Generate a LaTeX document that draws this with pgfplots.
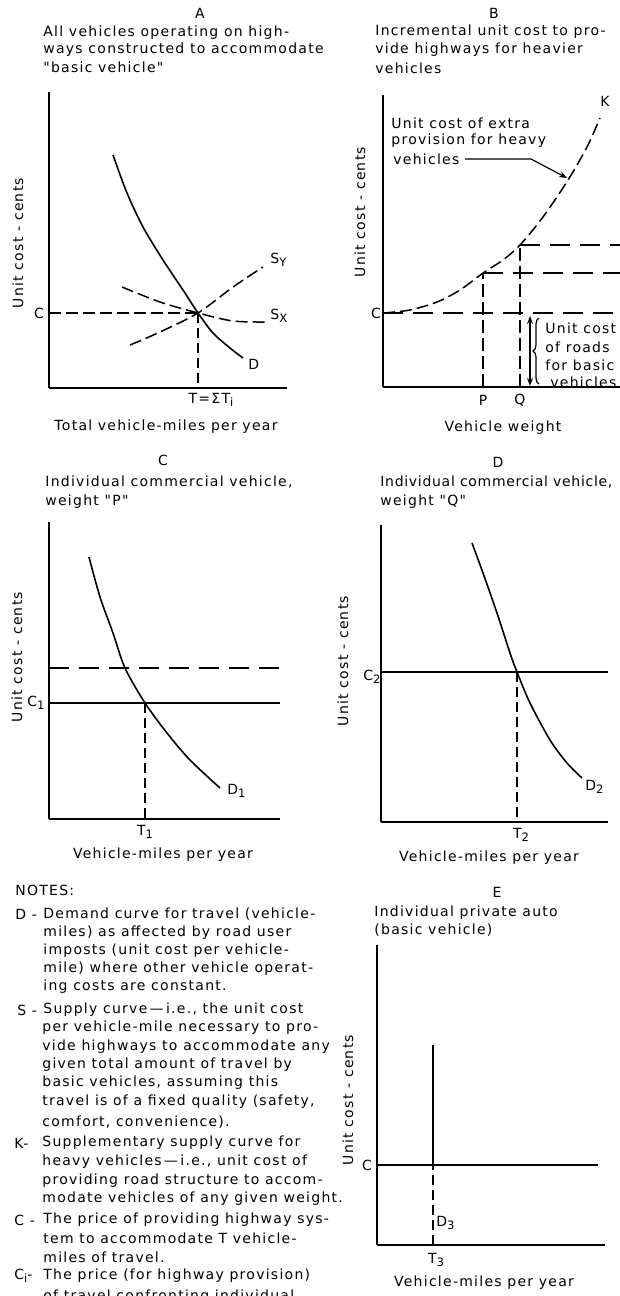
\documentclass[border=0pt]{standalone}
\usepackage{fontspec}
\setmainfont{DejaVu Sans}[LetterSpace=9, Ligatures=TeXOff]
\usepackage{pgfplots}
\pgfplotsset{compat=1.18}
\usetikzlibrary{decorations.pathreplacing, arrows.meta}
\newcommand{\sub}[1]{\raisebox{-0.45ex}{\fontsize{5.8}{6}\selectfont #1}}
\pgfplotsset{panel/.style={scale only axis, axis lines=left, axis line style={-, line width=1pt},
  xtick=\empty, ytick=\empty, xmin=0, ymin=0, clip=false, anchor=south west}}
\tikzset{
  curve/.style={line width=0.8pt, smooth},
  dA/.style={line width=0.75pt, dash pattern=on 6pt off 2.5pt},
  dL/.style={line width=0.75pt, dash pattern=on 10pt off 5pt},
  dV/.style={line width=0.75pt, dash pattern=on 6.5pt off 2.5pt},
  dS/.style={line width=0.75pt, dash pattern=on 5pt off 2.5pt},
}
\begin{document}
\begin{tikzpicture}
\useasboundingbox (0,0) rectangle (310pt,-648pt);
% ---------------- Panel A
\begin{axis}[panel, at={(24.5pt,-194pt)}, width=119pt, height=148pt, xmax=238, ymax=296]
\addplot[curve] coordinates {(64,233) (78,195) (94,161) (114,128) (134,98) (149,75) (164,55) (181,40) (194,30)};
\addplot[dA, smooth] coordinates {(81,43) (111,56) (149,75) (184,101) (214,121)};
\addplot[dA, smooth] coordinates {(73,101) (111,86) (149,75) (184,67) (218,66)};
\addplot[dA] coordinates {(0,75) (149,75)};
\addplot[dS] coordinates {(149,75) (149,0)};
\end{axis}
% ---------------- Panel B
\begin{axis}[panel, at={(191.5pt,-193.5pt)}, width=121pt, height=146pt, xmax=242, ymax=292]
\addplot[dA, smooth] coordinates {(0,74) (27,77) (54,85) (77,97) (100,114) (120,127) (137,142) (160,170) (185,207) (204,240) (217,269)};
\addplot[dL] coordinates {(0,74) (242,74)};
\addplot[dV] coordinates {(100,0) (100,114)};
\addplot[dL] coordinates {(100,114) (242,114)};
\addplot[dV] coordinates {(137,0) (137,142)};
\addplot[dL] coordinates {(137,142) (242,142)};
\end{axis}
% ---------------- Panel C
\begin{axis}[panel, at={(24.5pt,-409.5pt)}, width=115.5pt, height=148.5pt, xmax=231, ymax=297]
\addplot[curve] coordinates {(40,262) (51,222) (64,186) (76,151) (96,116) (118,86) (141,59) (171,31)};
\addplot[dL] coordinates {(0,151) (231,151)};
\addplot[line width=0.8pt] coordinates {(0,116) (231,116)};
\addplot[dS] coordinates {(96,116) (96,0)};
\end{axis}
% ---------------- Panel D
\begin{axis}[panel, at={(190.5pt,-411pt)}, width=113.5pt, height=148.5pt, xmax=227, ymax=297]
\addplot[curve] coordinates {(91,279) (102,249) (116,209) (129,169) (136,150) (149,119) (169,82) (186,59) (201,44)};
\addplot[line width=0.8pt] coordinates {(0,150) (227,150)};
\addplot[dS] coordinates {(136,150) (136,0)};
\end{axis}
% ---------------- Panel E
\begin{axis}[panel, at={(188.5pt,-622.5pt)}, width=114pt, height=150pt, xmax=228, ymax=300]
\addplot[line width=0.8pt] coordinates {(0,80) (221,80)};
\addplot[line width=0.8pt] coordinates {(56,80) (56,200)};
\addplot[dS] coordinates {(56,0) (56,80)};
\end{axis}
% ---------------- Texts
\begin{scope}[x=0.5pt, y=-0.5pt, every node/.style={font=\fontsize{7}{8}\selectfont, inner sep=0pt}]
\node at (200,13) {A};
\node at (494,13) {B};
\node at (163,460) {C};
\node at (498,462) {D};
\node at (497,892) {E};
\node[anchor=west] at (43,33) {All vehicles operating on high-};
\node[anchor=west] at (43,50) {ways constructed to accommodate};
\node[anchor=west] at (43,67) {"basic vehicle"};
\node[anchor=west] at (375,32) {Incremental unit cost to pro-};
\node[anchor=west] at (375,50) {vide highways for heavier};
\node[anchor=west] at (375,68) {vehicles};
\node[anchor=west] at (45,482) {Individual commercial vehicle,};
\node[anchor=west] at (45,502) {weight "P"};
\node[anchor=west] at (380,482) {\addfontfeature{LetterSpace=5}Individual commercial vehicle,};
\node[anchor=west] at (380,502) {weight "Q"};
\node[anchor=west] at (374,913) {Individual private auto};
\node[anchor=west] at (374,930) {(basic vehicle)};
% y labels
\node[rotate=90] at (18,243) {Unit cost - cents};
\node[rotate=90] at (360,212) {Unit cost - cents};
\node[rotate=90] at (17,657) {Unit cost - cents};
\node[rotate=90] at (343,661) {Unit cost - cents};
\node[rotate=90] at (348,1100) {Unit cost - cents};
% x labels
\node at (166,427) {Total vehicle-miles per year};
\node at (503,428) {Vehicle weight};
\node at (163,855) {Vehicle-miles per year};
\node at (489,858) {Vehicle-miles per year};
\node at (484,1283) {Vehicle-miles per year};
% panel A labels
\node at (39,313) {C};
\node at (211,400) {T=ΣT\sub{i}};
\node[anchor=west] at (270,260) {S\sub{Y}};
\node[anchor=west] at (270,316) {S\sub{X}};
\node[anchor=west] at (248,364) {D};
% panel B labels
\node at (376,313) {C};
\node at (605,101) {K};
\node at (483,400) {P};
\node at (520,400) {Q};
\node[anchor=west] at (391,123) {Unit cost of extra};
\node[anchor=west] at (391,141) {provision for heavy};
\node[anchor=west] at (393,159) {vehicles};
\draw[line width=0.6pt, -{Stealth[length=4pt,width=3pt]}] (465,159) -- (531,159) -- (567,178);
\draw[line width=0.6pt, {Stealth[length=4pt,width=3pt]}-{Stealth[length=4pt,width=3pt]}] (530,316) -- (530,386);
\draw[line width=0.6pt, decorate, decoration={brace, amplitude=3pt}] (539,384) -- (539,318);
\node[anchor=west] at (545,328) {Unit cost};
\node[anchor=west] at (545,347) {of roads};
\node[anchor=west] at (545,365) {for basic};
\node[anchor=west] at (550,382) {vehicles};
% panel C labels
\node at (36,703) {C\sub{1}};
\node[anchor=west] at (227,791) {D\sub{1}};
\node at (145,832) {T\sub{1}};
% panel D labels
\node at (372,677) {C\sub{2}};
\node[anchor=west] at (585,787) {D\sub{2}};
\node at (521,835) {T\sub{2}};
% panel E labels
\node at (367,1165) {C};
\node[anchor=west] at (436,1223) {D\sub{3}};
\node at (436,1260) {T\sub{3}};
% notes
\node[anchor=west] at (15,890) {NOTES:};
\node[anchor=west] at (15,914) {D -};
\node[anchor=west] at (43,914) {Demand curve for travel (vehicle-};
\node[anchor=west] at (43,933) {miles) as affected by road user};
\node[anchor=west] at (43,951) {imposts (unit cost per vehicle-};
\node[anchor=west] at (43,969) {mile) where other vehicle operat-};
\node[anchor=west] at (43,987) {ing costs are constant.};
\node[anchor=west] at (17,1010) {S -};
\node[anchor=west] at (43,1010) {Supply curve\,—\,i.e., the unit cost};
\node[anchor=west] at (42,1028) {per vehicle-mile necessary to pro-};
\node[anchor=west] at (42,1047) {vide highways to accommodate any};
\node[anchor=west] at (42,1065) {given total amount of travel by};
\node[anchor=west] at (42,1083) {basic vehicles, assuming this};
\node[anchor=west] at (42,1102) {travel is of a fixed quality (safety,};
\node[anchor=west] at (42,1122) {comfort, convenience).};
\node[anchor=west] at (14,1143) {K-};
\node[anchor=west] at (42,1143) {Supplementary supply curve for};
\node[anchor=west] at (42,1162) {heavy vehicles\,—\,i.e., unit cost of};
\node[anchor=west] at (42,1181) {providing road structure to accom-};
\node[anchor=west] at (42,1199) {modate vehicles of any given weight.};
\node[anchor=west] at (14,1220) {C -};
\node[anchor=west] at (43,1220) {The price of providing highway sys-};
\node[anchor=west] at (43,1238) {tem to accommodate T vehicle-};
\node[anchor=west] at (43,1257) {miles of travel.};
\node[anchor=west] at (14,1276) {C\sub{i}-};
\node[anchor=west] at (43,1276) {The price (for highway provision)};
\node[anchor=west] at (43,1297) {of travel confronting individual};
\end{scope}
\end{tikzpicture}
\end{document}
